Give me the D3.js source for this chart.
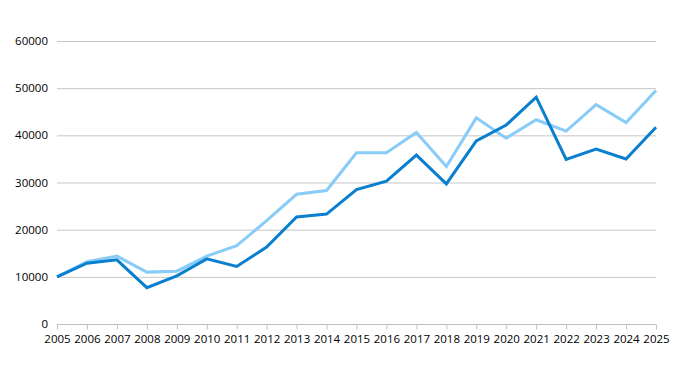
<!DOCTYPE html>
<html><head><meta charset="utf-8">
<script src="https://cdn.jsdelivr.net/npm/d3@7"></script>
<style>
html,body{margin:0;padding:0;background:#fff;}
svg text{font-family:"Open Sans","Noto Sans",sans-serif;font-size:11.5px;fill:#000;}
</style></head>
<body><svg id="c" width="687" height="370"></svg>
<script>
const years = [2005,2006,2007,2008,2009,2010,2011,2012,2013,2014,2015,2016,2017,2018,2019,2020,2021,2022,2023,2024,2025];
const seriesDark = [10000,12900,13600,7700,10200,13800,12200,16300,22700,23300,28500,30300,35800,29700,38800,42200,48100,34900,37100,35000,41700];
const seriesLight = [10000,13200,14400,11000,11200,14400,16600,21900,27500,28300,36300,36300,40600,33400,43700,39400,43300,40900,46500,42700,49500];
const yTicks = [0,10000,20000,30000,40000,50000,60000];

const svg = d3.select("#c");
const x = d3.scaleLinear().domain([2005,2025]).range([57,656]);
const y = d3.scaleLinear().domain([0,60000]).range([324,41]);

// gridlines
svg.append("g").selectAll("line").data(yTicks.filter(d=>d>0)).join("line")
  .attr("x1",57).attr("x2",656).attr("y1",d=>y(d)+0.5).attr("y2",d=>y(d)+0.5)
  .attr("stroke","#c6c6c6").attr("stroke-width",1);

// y labels
svg.append("g").selectAll("text").data(yTicks).join("text")
  .attr("x",48).attr("y",d=>y(d)+4).attr("text-anchor","end").text(d=>d);

// x axis
const xAxis = d3.axisBottom(x).tickValues(years).tickFormat(d3.format("d")).tickSize(5).tickPadding(5);
const gx = svg.append("g").attr("transform","translate(0,324.5)").call(xAxis);
gx.select(".domain").attr("stroke","#c0c0c0").attr("d","M57,0H656");
gx.selectAll(".tick line").attr("stroke","#c0c0c0");
gx.selectAll(".tick text").attr("font-size",null).attr("font-family",null).attr("fill","#000").attr("dy","0.71em");

const line = d3.line().x((d,i)=>x(years[i])).y(d=>y(d));
svg.append("path").datum(seriesLight).attr("d",line).attr("fill","none")
  .attr("stroke","#88ccf8").attr("stroke-width",3).attr("stroke-linejoin","miter");
svg.append("path").datum(seriesDark).attr("d",line).attr("fill","none")
  .attr("stroke","#0a7fcf").attr("stroke-width",3).attr("stroke-linejoin","miter");
</script></body></html>
